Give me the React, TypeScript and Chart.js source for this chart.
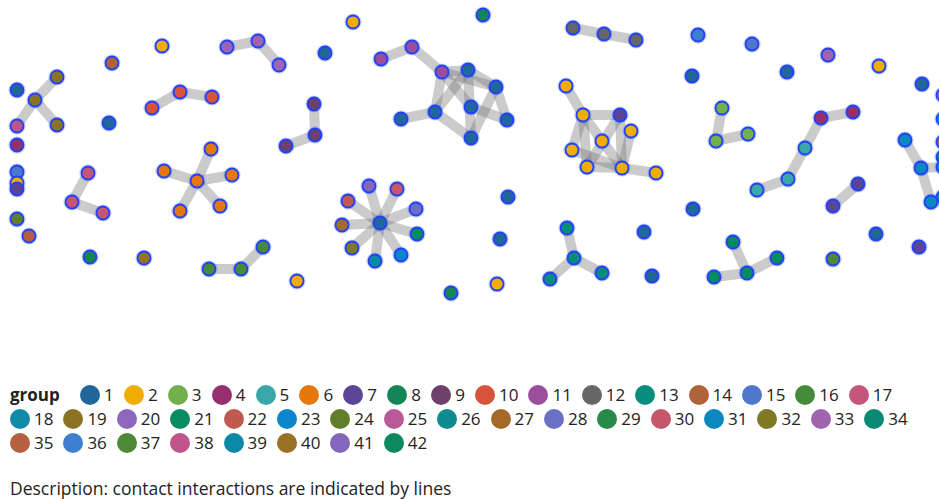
import React, { useEffect, useRef } from "react";
import { Chart, registerables } from "chart.js";

Chart.register(...registerables);

// group ids and colours
const groupIds: number[] = Array.from({ length: 42 }, (_, i) => i + 1);
const groupColors: string[] = [
  "#22679a", "#f0ac00", "#72b04b", "#962f6e", "#3aa8a8", "#e5780a", "#5b4594",
  "#158558", "#70406c", "#d9533c", "#9b4e9b", "#666666", "#098c7e", "#b06238",
  "#4f78cc", "#468a3c", "#c5567a", "#118ca8", "#8b7325", "#8d67bc", "#078b62",
  "#c05a50", "#0a86cd", "#617e2b", "#b85b98", "#0c8c8c", "#a66a28", "#6b70c5",
  "#27894a", "#c6566a", "#0a88bf", "#7f7923", "#a063b0", "#0a8a75", "#b5603e",
  "#3e80d0", "#4d8a35", "#c0558a", "#0b8aa6", "#9a7024", "#8267bd", "#0b8a5f",
];

// node layout positions (layout units) and group membership
const nodeX: number[] = [
  17, 57, 35, 57, 17, 109, 112, 162, 227, 258, 279, 152, 180, 212, 314, 315, 286,
  17, 17, 17, 17, 88, 72, 103, 197, 211, 164, 232, 220, 180, 17, 29, 90, 144, 209,
  241, 263, 297, 325, 353, 483, 381, 412, 442, 468, 496, 471, 507, 435, 401, 471,
  380, 369, 397, 416, 417, 401, 375, 352, 342, 348, 508, 500, 497, 451, 574, 567,
  550, 602, 573, 604, 636, 566, 583, 620, 631, 602, 572, 587, 622, 656, 698, 752,
  828, 879, 692, 787, 922, 722, 716, 748, 757, 788, 805, 821, 853, 858, 833, 693,
  644, 652, 733, 747, 777, 714, 833, 876, 919, 905, 921, 931, 943, 943, 943, 943,
  943, 943,
];
const nodeY: number[] = [
  90, 77, 100, 125, 126, 123, 63, 46, 47, 41, 65, 108, 92, 97, 104, 135, 146,
  145, 172, 183, 189, 173, 202, 213, 181, 149, 171, 175, 206, 211, 219, 236, 257,
  258, 269, 269, 247, 281, 53, 22, 15, 59, 47, 72, 70, 87, 107, 120, 112, 119, 138,
  223, 186, 189, 209, 234, 255, 261, 248, 225, 201, 197, 239, 284, 293, 258, 228,
  279, 273, 28, 34, 40, 86, 115, 115, 131, 141, 150, 167, 168, 173, 35, 44, 55, 66,
  76, 72, 84, 108, 141, 134, 190, 179, 148, 118, 112, 184, 206, 209, 232, 276, 242,
  273, 258, 277, 259, 234, 247, 140, 168, 202, 95, 119, 142, 157, 167, 197,
];
const nodeGroup: number[] = [
  1, 19, 19, 19, 38, 1, 14, 2, 33, 33, 33, 10, 10, 10, 9, 9, 9,
  4, 15, 2, 7, 17, 17, 17, 6, 6, 6, 6, 6, 6, 24, 35, 8, 40, 16,
  16, 16, 2, 1, 2, 8, 11, 11, 11, 1, 1, 1, 1, 1, 1, 1,
  1, 41, 30, 28, 21, 23, 39, 32, 27, 22, 1, 1, 2, 8, 13, 13,
  13, 13, 12, 12, 12, 2, 2, 7, 2, 2, 2, 2, 2, 2, 36, 15,
  33, 2, 1, 1, 1, 3, 3, 3, 5, 5, 5, 4, 4, 7, 7, 1,
  1, 1, 21, 21, 21, 21, 37, 1, 7, 31, 31, 31, 20, 18, 35, 34,
  31, 39,
];

// contact interactions (node index pairs)
const edgeFrom: number[] = [
  2, 2, 2, 8, 9, 11, 12, 14, 15, 21, 22, 24, 24, 24, 24, 24, 34, 35,
  41, 42, 43, 43, 43, 43, 44, 44, 44, 45, 45, 46, 48, 49,
  51, 51, 51, 51, 51, 51, 51, 51, 51,
  65, 65, 65, 69, 70,
  72, 73, 73, 73, 73, 74, 75, 74, 78, 77, 79,
  88, 89, 91, 92, 93, 94, 96, 101, 102, 104, 108, 109, 109, 110,
];
const edgeTo: number[] = [
  1, 3, 4, 9, 10, 12, 13, 15, 16, 22, 23, 25, 26, 27, 28, 29, 35, 36,
  42, 43, 44, 45, 48, 46, 45, 48, 50, 47, 50, 47, 50, 48,
  52, 53, 54, 55, 56, 57, 58, 59, 60,
  66, 67, 68, 70, 71,
  73, 74, 78, 79, 77, 79, 79, 78, 79, 79, 80,
  89, 90, 92, 93, 94, 95, 97, 102, 103, 102, 109, 110, 115, 116,
];

const FONT = "'Open Sans', 'Noto Sans', sans-serif";

export default function App() {
  const canvasRef = useRef<HTMLCanvasElement | null>(null);

  useEffect(() => {
    const nodes = nodeX.map((x, i) => ({ x, y: nodeY[i] }));
    const edgePts: any[] = [];
    edgeFrom.forEach((a, i) => {
      const b = edgeTo[i];
      edgePts.push({ x: nodeX[a], y: nodeY[a] });
      edgePts.push({ x: nodeX[b], y: nodeY[b] });
      edgePts.push({ x: null, y: null });
    });
    const fills = nodeGroup.map((g) => groupColors[g - 1]);

    const chart = new Chart(canvasRef.current as HTMLCanvasElement, {
      type: "scatter",
      data: {
        datasets: [
          {
            type: "scatter",
            label: "nodes",
            data: nodes,
            pointRadius: 6.5,
            pointHoverRadius: 6.5,
            pointBackgroundColor: fills,
            pointBorderColor: "rgb(35,65,245)",
            pointBorderWidth: 1.8,
            order: 0,
            clip: false as any,
          } as any,
          {
            type: "scatter",
            label: "halo",
            data: nodes,
            pointRadius: 8.6,
            pointHoverRadius: 8.6,
            pointBackgroundColor: "rgba(90,120,255,0.35)",
            pointBorderWidth: 0,
            order: 1,
            clip: false as any,
          } as any,
          {
            type: "line",
            label: "contacts",
            data: edgePts,
            borderColor: "rgba(110,110,110,0.36)",
            borderWidth: 10,
            borderCapStyle: "butt",
            pointRadius: 0,
            pointHoverRadius: 0,
            tension: 0,
            spanGaps: false,
            fill: false,
            segment: {},
            order: 2,
          } as any,
        ],
      },
      options: {
        animation: false,
        responsive: true,
        maintainAspectRatio: false,
        events: [],
        layout: { padding: 0, autoPadding: false },
        plugins: { legend: { display: false }, tooltip: { enabled: false } },
        scales: {
          x: { type: "linear", min: 0, max: 939, display: false },
          y: { type: "linear", min: 0, max: 370, reverse: true, display: false },
        },
      },
    });
    return () => chart.destroy();
  }, []);

  return (
    <div style={{ position: "absolute", left: 0, top: 0, width: 939, height: 499, fontFamily: FONT, color: "#222" }}>
      <div style={{ position: "absolute", left: 0, top: 0, width: 939, height: 370 }}>
        <canvas ref={canvasRef} />
      </div>
      <div
        style={{
          position: "absolute",
          left: 10,
          top: 383,
          width: 925,
          display: "flex",
          flexWrap: "wrap",
          fontSize: 17,
        }}
      >
        <div style={{ width: 70, height: 24, lineHeight: "24px", fontWeight: 700 }}>group</div>
        {groupIds.map((g, i) => (
          <div
            key={g}
            style={{
              width: g < 10 ? 43.9 : 53.4,
              height: 24,
              display: "flex",
              alignItems: "center",
            }}
          >
            <span
              style={{
                display: "inline-block",
                width: 20,
                height: 20,
                borderRadius: 10,
                background: groupColors[i],
                marginRight: 4,
                flex: "none",
              }}
            />
            <span style={{ lineHeight: "24px" }}>{g}</span>
          </div>
        ))}
      </div>
      <div style={{ position: "absolute", left: 10, top: 477, fontSize: 17.5, lineHeight: "22px" }}>
        Description: contact interactions are indicated by lines
      </div>
    </div>
  );
}
